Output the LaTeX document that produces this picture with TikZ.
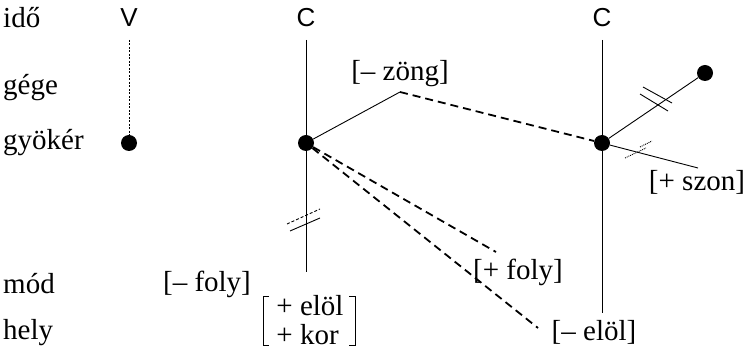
\documentclass[tikz,border=0pt]{standalone}
\usepackage{fontspec}
\setmainfont{Liberation Serif}
\newfontfamily\tiersans{Liberation Sans}
\begin{document}
\begin{tikzpicture}[x=1pt,y=-1pt,
  lab/.style={font=\fontsize{29}{32}\selectfont, inner sep=0pt},
  tier/.style={lab, anchor=west},
  seg/.style={font=\tiersans\fontsize{26}{30}\selectfont, inner sep=0pt},
  dotnode/.style={circle, fill=black, minimum size=16pt, inner sep=0pt},
  assoc/.style={line width=0.9pt},
  vline/.style={line width=0.8pt, dash pattern=on 2pt off 1.5pt},
  spread/.style={line width=1.8pt, dash pattern=on 8pt off 5pt},
  hash/.style={line width=0.9pt}]
\useasboundingbox (0,0) rectangle (748,355);
% tier labels
\node[tier] (ido) at (3,18) {idő};
\node[tier] (gege) at (3,88) {gége};
\node[tier] (gyoker) at (3,143) {gyökér};
\node[tier] (mod) at (3,284) {mód};
\node[tier] (hely) at (3,333) {hely};
% segments
\node[seg] (V) at (129,18) {V};
\node[seg] (C1) at (306,18) {C};
\node[seg] (C2) at (602,18) {C};
% root dots
\node[dotnode] (v) at (129,143) {};
\node[dotnode] (c1) at (306,143) {};
\node[dotnode] (c2) at (602,143) {};
\node[dotnode] (d) at (705,73) {};
% features
\node[lab] (zong) at (400,74) {[– zöng]};
\coordinate (zongpt) at (400,92);
\node[lab] (mfoly) at (207,284) {[– foly]};
\node[lab] (pfoly) at (518,272) {[+ foly]};
\node[lab] (melol) at (594,332) {[– elöl]};
\node[lab] (pszon) at (697,182) {[+ szon]};
\node[lab, align=left] (hm) at (310,320) {+ elöl\\[-3pt]+ kor};
\coordinate (c1bot) at (306,272);
\coordinate (c2bot) at (602,313);
\coordinate (vtop) at (129,40);
\coordinate (c1top) at (306,40);
\coordinate (c2top) at (602,40);
\coordinate (f1end) at (496,252);
\coordinate (f2end) at (538,328);
\coordinate (szonend) at (698,168);
% brackets of the matrix
\draw[line width=0.9pt] (269,296) -- (263,296) -- (263,345) -- (269,345);
\draw[line width=0.9pt] (349,296) -- (355,296) -- (355,345) -- (349,345);
% vertical association lines
\draw[vline] (vtop) -- (v);
\draw[assoc] (c1top) -- (c1bot);
\draw[assoc] (c2top) -- (c2bot);
% links
\draw[assoc] (c1) -- (zongpt);
\draw[spread] (zongpt) -- (c2);
\draw[spread] (c1) -- (f1end);
\draw[spread] (c1) -- (f2end);
\draw[assoc] (c2) -- (d);
\draw[assoc] (c2) -- (szonend);
% delinking marks
\draw[hash] (290,231) -- (320,218);
\draw[hash, densely dashed] (287,224) -- (320,209);
\draw[hash] (643,87) -- (672,103);
\draw[hash] (640,94) -- (668,111);
\draw[hash, densely dotted] (640,147) -- (652,141);
\draw[hash, densely dotted] (625,158) -- (646,148);
\end{tikzpicture}
\end{document}
